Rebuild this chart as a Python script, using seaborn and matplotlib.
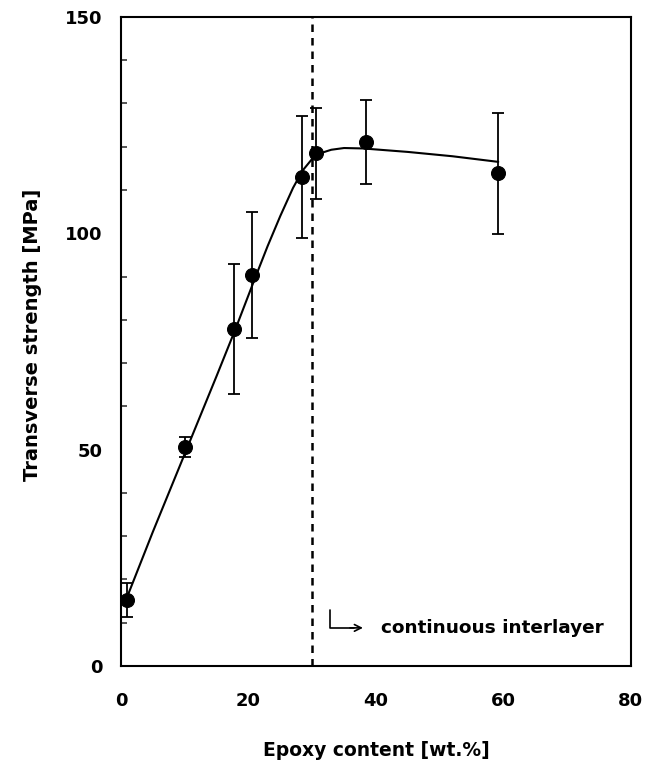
import matplotlib
matplotlib.use("Agg")
import matplotlib.pyplot as plt
import seaborn as sns
import pandas as pd
from matplotlib.ticker import MultipleLocator

# Data
epoxy = [1, 10, 17.7, 20.6, 28.4, 30.6, 38.4, 59.2]
strength = [15.2, 50.6, 77.9, 90.4, 113.0, 118.5, 121.1, 113.9]
err = [4.0, 2.3, 15.0, 14.6, 14.0, 10.5, 9.7, 14.0]

curve_x = [0.9, 5, 10, 15, 18, 21, 23, 25, 27, 28.5, 30, 31.5, 33, 35, 38, 45, 52, 59.2]
curve_y = [15.7, 31, 49, 67, 78, 89.5, 97, 104, 110.5, 114.5, 117.2, 118.6, 119.3, 119.7, 119.6, 118.8, 117.8, 116.5]

transition_x = 30
x_ticks = [0, 20, 40, 60, 80]
y_ticks = [0, 50, 100, 150]

sns.set_theme(style="white")
plt.rcParams['font.family'] = ['DejaVu Sans']

fig = plt.figure(figsize=(6.47, 7.69), dpi=100)
ax = fig.add_axes([0.187, 0.134, 0.788, 0.844])

pts = pd.DataFrame({"x": epoxy, "y": strength})
cur = pd.DataFrame({"x": curve_x, "y": curve_y})

sns.lineplot(data=cur, x="x", y="y", ax=ax, color="black", linewidth=1.5, sort=False)
ax.errorbar(epoxy, strength, yerr=err, fmt="none", ecolor="black", elinewidth=1.3,
            capsize=4.5, capthick=1.3)
sns.scatterplot(data=pts, x="x", y="y", ax=ax, color="black", s=100, edgecolor="black", zorder=5)

ax.axvline(transition_x, color="black", linestyle=(0, (3.0, 2.4)), linewidth=1.8)

# bent arrow annotation
ax.plot([32.8, 32.8, 36.5], [12.9, 8.8, 8.8], color="black", linewidth=1.2)
ax.annotate("", xy=(38.4, 8.8), xytext=(35.5, 8.8),
            arrowprops=dict(arrowstyle="->", color="black", lw=1.2))
ax.text(40.8, 8.8, "continuous interlayer", fontsize=13.3, fontweight="bold",
        va="center", ha="left", color="black")

ax.set_xlim(0, 80)
ax.set_ylim(0, 150)
ax.set_xticks(x_ticks)
ax.set_yticks(y_ticks)
ax.yaxis.set_minor_locator(MultipleLocator(10))
ax.tick_params(axis="both", which="major", direction="in", length=6, width=1.3,
               labelsize=13, colors="black")
ax.tick_params(axis="y", which="minor", direction="in", length=4, width=1.1, left=True)
ax.tick_params(axis="x", which="major", pad=19)
ax.tick_params(axis="y", which="major", pad=13)
for lab in ax.get_xticklabels() + ax.get_yticklabels():
    lab.set_fontweight("bold")

for s in ax.spines.values():
    s.set_color("black")
    s.set_linewidth(1.5)

ax.set_xlabel("Epoxy content [wt.%]", fontsize=13.5, fontweight="bold", labelpad=22, color="black")
ax.set_ylabel("Transverse strength [MPa]", fontsize=14, fontweight="bold", labelpad=22, color="black")
ax.yaxis.set_label_coords(-0.155, 0.51)
ax.grid(False)

fig.savefig("out.png", dpi=100)
